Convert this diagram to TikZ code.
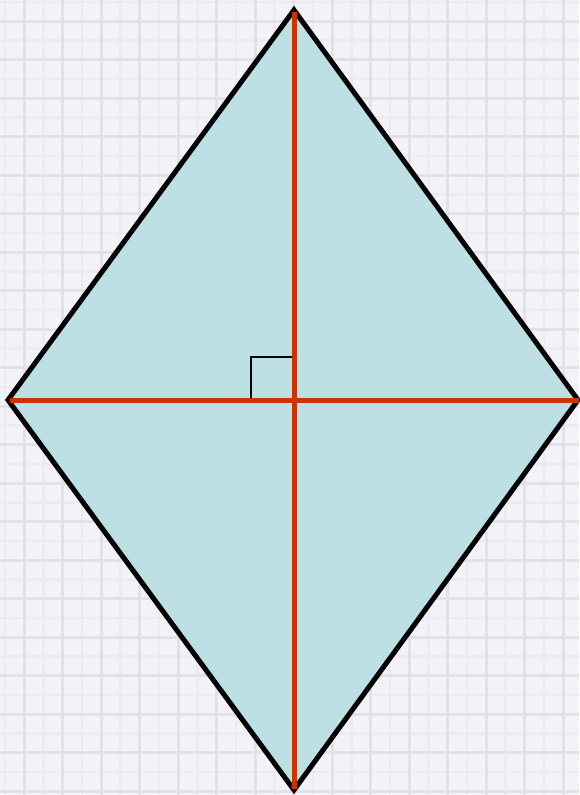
\documentclass[tikz,border=0pt]{standalone}
\begin{document}
\begin{tikzpicture}[x=1pt,y=-1pt,
  edge/.style={line width=5pt,black,line join=miter},
  diag/.style={line width=5pt,draw={rgb,255:red,204;green,51;blue,0}},
  rightmark/.style={line width=1.6pt,black}]
\definecolor{bgc}{RGB}{243,242,247}
\definecolor{gridc}{RGB}{226,225,232}
\definecolor{gridm}{RGB}{236,235,241}
\definecolor{fillc}{RGB}{188,224,227}
\useasboundingbox (0,0) rectangle (579,795);
\fill[bgc] (0,0) rectangle (579,795);
\foreach \i in {0,...,15} {
  \draw[gridm,line width=2.5pt] ({5+\i*38.5},0) -- ({5+\i*38.5},795);
  \draw[gridm,line width=2.5pt] (0,{2+\i*38.5}) -- (579,{2+\i*38.5});
  \draw[gridm,line width=2.5pt] (0,{2+(\i+16)*38.5}) -- (579,{2+(\i+16)*38.5});
}
\foreach \i in {0,...,15} {
  \draw[gridc,line width=3pt] ({24+\i*38.5},0) -- ({24+\i*38.5},795);
}
\foreach \i in {0,...,20} {
  \draw[gridc,line width=3pt] (0,{21+\i*38.5}) -- (579,{21+\i*38.5});
}
\coordinate (T) at (294,10);
\coordinate (B) at (294,790);
\coordinate (L) at (8,400);
\coordinate (R) at (578,400);
\coordinate (O) at (294,400);
\fill[fillc] (T) -- (R) -- (B) -- (L) -- cycle;
\draw[edge] (T) -- (R) -- (B) -- (L) -- cycle;
\draw[rightmark] (251,400) |- (293,357);
\draw[diag] (294,12) -- (294,789);
\draw[diag] (10,400) -- (579,400);
\end{tikzpicture}
\end{document}
